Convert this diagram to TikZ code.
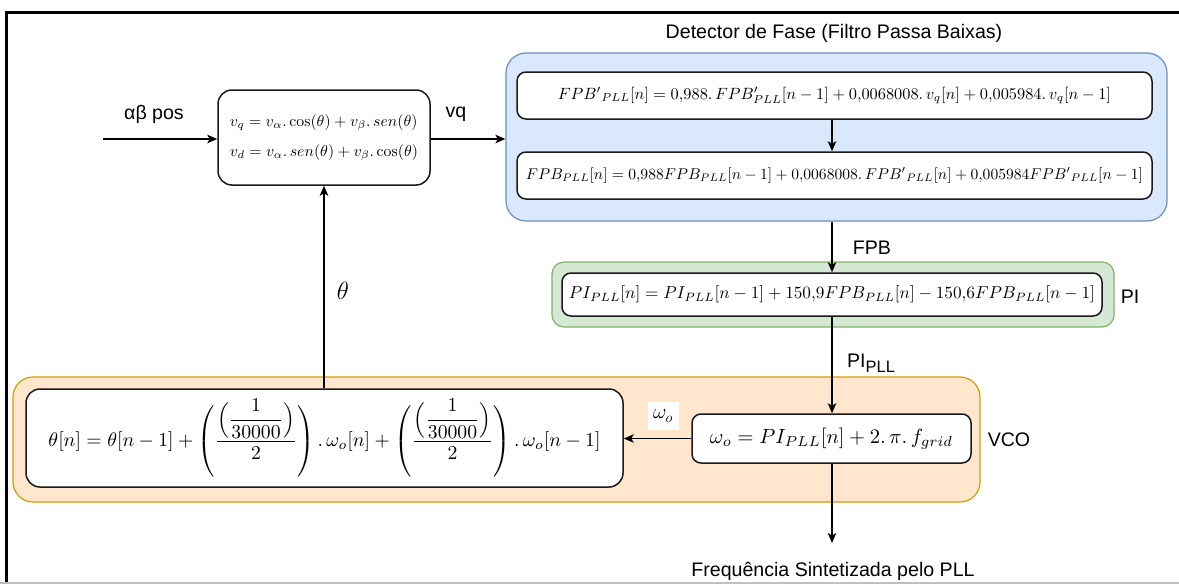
\documentclass[tikz,border=0pt]{standalone}
\usepackage{fontspec}
\usepackage{amsmath}
\usepackage{graphicx}
\usetikzlibrary{arrows.meta}
\newfontfamily\labfamily{Liberation Sans}
\newcommand{\labfont}{\labfamily\fontsize{19.6}{22}\selectfont}
\definecolor{detfill}{HTML}{DAE8FC}
\definecolor{detline}{HTML}{6C8EBF}
\definecolor{pifill}{HTML}{D5E8D4}
\definecolor{piline}{HTML}{82B366}
\definecolor{vcofill}{HTML}{FFE6CC}
\definecolor{vcoline}{HTML}{D79B00}
\definecolor{boxline}{HTML}{1A1A1A}
\begin{document}
\begin{tikzpicture}[x=1pt,y=-1pt,
  eqbox/.style={draw=boxline, line width=1.5pt, fill=white, rounded corners=9pt, inner sep=0pt},
  group/.style={line width=1.2pt, rounded corners=20pt, inner sep=0pt},
  lab/.style={font=\labfont, inner sep=0pt},
  flow/.style={-{Stealth[length=10pt,width=8.5pt,inset=2.5pt]}, line width=1.4pt}]
\useasboundingbox (0,0) rectangle (1179,584);

% page frame
\draw[line width=3pt] (6,584) -- (6,12) -- (1179,12);
\draw[black!25, line width=1.5pt] (0,583) -- (1179,583);

% grouping panels
\node[group, draw=detline, fill=detfill, minimum width=661pt, minimum height=168pt] (det) at (836.5,137) {};
\node[group, draw=piline, fill=pifill, rounded corners=12pt, minimum width=562pt, minimum height=65pt] (pigrp) at (833,294.5) {};
\node[group, draw=vcoline, fill=vcofill, minimum width=967pt, minimum height=125pt] (vco) at (496.5,439.5) {};

% equation blocks
\node[eqbox, rounded corners=14pt, minimum width=212pt, minimum height=95pt] (park) at (324,137.5)
  {\resizebox{188pt}{!}{\begin{tabular}{@{}l@{}}
   $v_q = v_\alpha.\cos(\theta) + v_\beta.\,sen(\theta)$\\[7pt]
   $v_d = v_\alpha.\,sen(\theta) + v_\beta.\cos(\theta)$
   \end{tabular}}};
\node[eqbox, minimum width=635pt, minimum height=47pt] (fpb1) at (834.5,95.5)
  {\resizebox{553pt}{!}{${FPB'}_{PLL}[n] = 0{,}988.\,FPB'_{PLL}[n-1] + 0{,}0068008.\,v_q[n] + 0{,}005984.\,v_q[n-1]$}};
\node[eqbox, minimum width=635pt, minimum height=47pt] (fpb2) at (834.5,175.5)
  {\resizebox{617pt}{!}{$FPB_{PLL}[n] = 0{,}988FPB_{PLL}[n-1] + 0{,}0068008.\,{FPB'}_{PLL}[n] + 0{,}005984{FPB'}_{PLL}[n-1]$}};
\node[eqbox, minimum width=540pt, minimum height=43pt] (pi) at (832,294.5)
  {\resizebox{526pt}{!}{$PI_{PLL}[n] = PI_{PLL}[n-1] + 150{,}9FPB_{PLL}[n] - 150{,}6FPB_{PLL}[n-1]$}};
\node[eqbox, rounded corners=14pt, minimum width=597pt, minimum height=98pt] (theta) at (324.5,438)
  {\resizebox{552pt}{!}{\delimiterfactor=750 \delimitershortfall=20pt
   $\displaystyle \theta[n] = \theta[n-1] + \left(\frac{\left(\dfrac{1}{30000}\right)}{2}\right).\,\omega_o[n] + \left(\frac{\left(\dfrac{1}{30000}\right)}{2}\right).\,\omega_o[n-1]$}};
\node[eqbox, minimum width=279pt, minimum height=49pt] (omega) at (831.5,438.5)
  {\resizebox{243pt}{!}{$\omega_o = PI_{PLL}[n] + 2.\,\pi.\,f_{grid}$}};

% connectors
\coordinate (src) at (103,139);
\coordinate (out) at (832,543);
\draw[flow] (src) -- (src -| park.west);
\draw[flow] (park.east |- src) -- (src -| det.west);
\draw[flow] (fpb1.south -| pi.north) -- (fpb2.north -| pi.north);
\draw[flow] (det.south -| pi.north) -- (pi.north);
\draw[flow] (pi.south) -- (pi.south |- omega.north);
\draw[flow] (omega.west) -- (theta.east |- omega.west);
\draw[flow] (theta.north -| park.south) -- (park.south);
\draw[flow] (omega.south -| out) -- (out);

% labels
\node[lab] (dettitle) at (834,33) {Detector de Fase (Filtro Passa Baixas)};
\node[lab] (ablab) at (154,114) {αβ pos};
\node[lab] (vqlab) at (456,114) {vq};
\node[lab] (fpblab) at (872,248) {FPB};
\node[lab] (pilab) at (1130,297) {PI};
\node[lab] (pipll) at (871,363) {PI\raisebox{-5pt}{\labfamily\fontsize{16.5}{16.5}\selectfont PLL}};
\node[lab] (vcolab) at (1009,440) {VCO};
\node[lab] (outlab) at (833,571) {Frequência Sintetizada pelo PLL};
\node[inner sep=0pt] (thlab) at (343,291) {\fontsize{24}{24}\selectfont$\theta$};
\node[fill=white, inner sep=0pt, minimum width=31pt, minimum height=28pt] (omlab) at (663,416)
  {\fontsize{22}{22}\selectfont$\omega_o$};
\end{tikzpicture}
\end{document}
